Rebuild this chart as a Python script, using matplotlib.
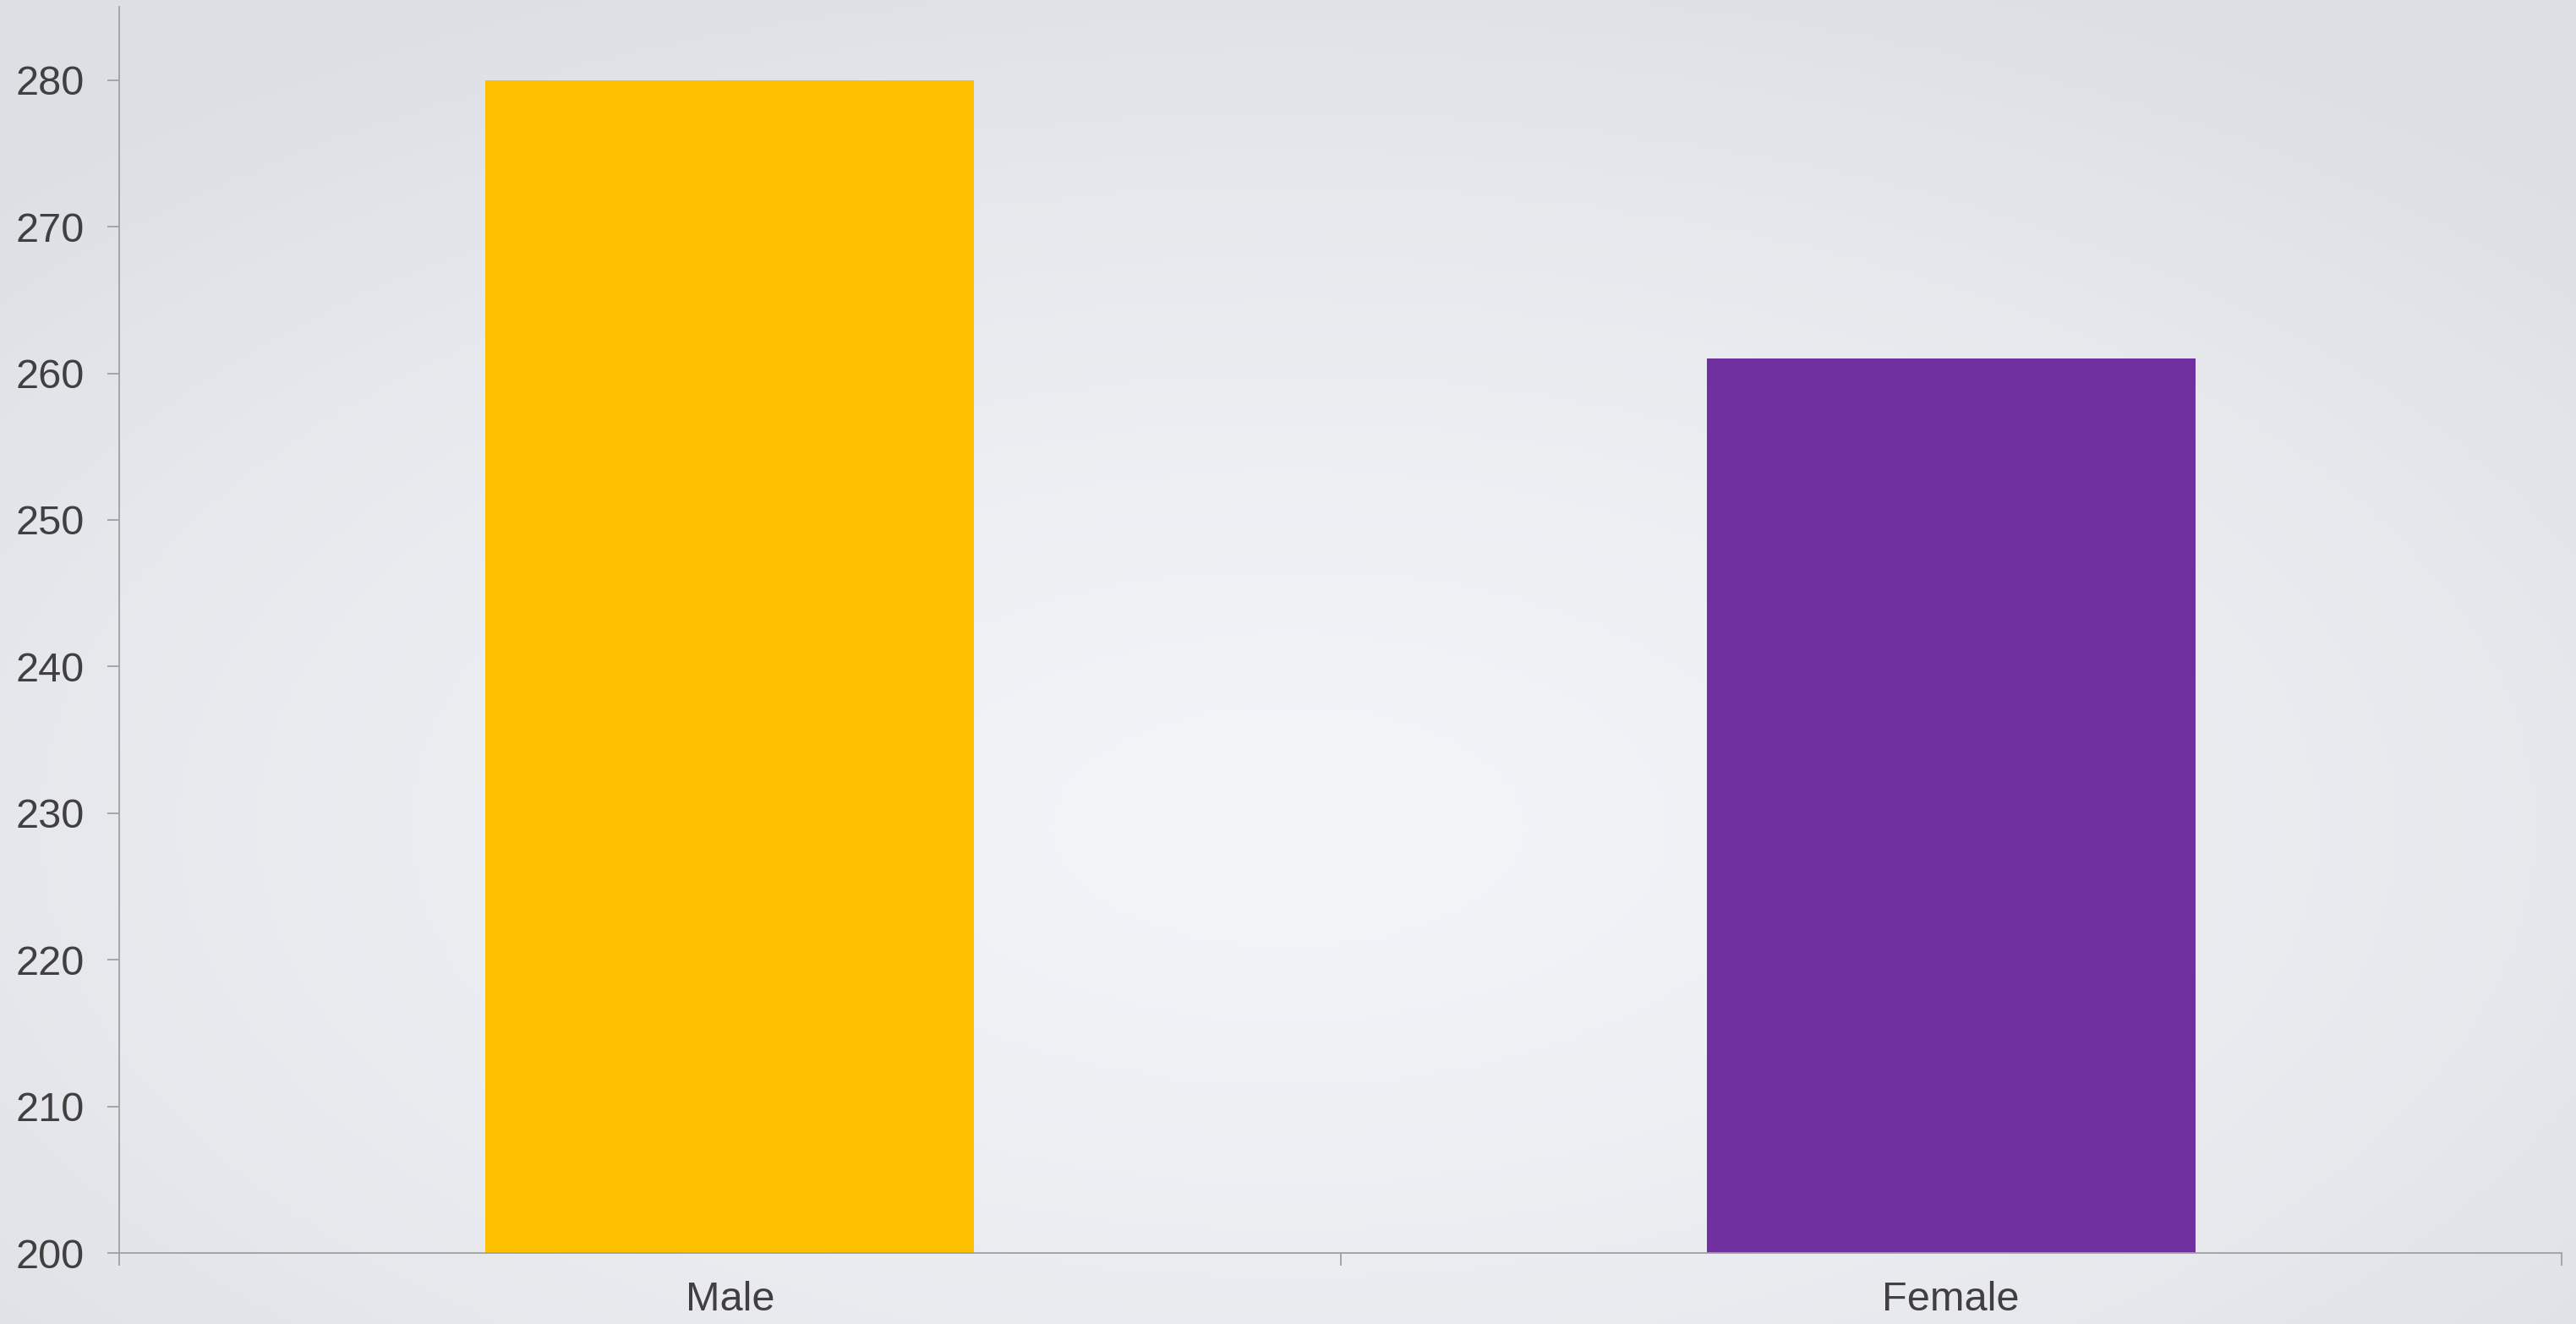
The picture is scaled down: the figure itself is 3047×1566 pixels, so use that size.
import numpy as np
import matplotlib.pyplot as plt

# data
categories = ['Male', 'Female']
values = [280, 261]
colors = ['#ffc000', '#7030a0']

plt.rcParams['font.family'] = ['Liberation Sans', 'DejaVu Sans']

fig = plt.figure(figsize=(30.47, 15.66), dpi=100)

# soft radial background
bg = fig.add_axes([0, 0, 1, 1], zorder=-10)
yy, xx = np.mgrid[-1:1:300j, -1:1:600j]
r = np.sqrt((xx * 0.85) ** 2 + ((yy - 0.25) * 0.85) ** 2)
r = np.clip(r, 0, 1.2) / 1.2
c0 = np.array([243, 244, 248]) / 255
c1 = np.array([220, 223, 228]) / 255
img = c0 + (c1 - c0) * r[..., None] ** 1.5
bg.imshow(img, aspect='auto', extent=[0, 1, 0, 1])
bg.axis('off')

ax = fig.add_axes([0.0463, 0.0536, 0.9481, 0.9413])
ax.patch.set_alpha(0)

x = np.arange(len(categories)) + 0.5
ax.bar(x, [v - 200 for v in values], bottom=200, width=0.40, color=colors)

ax.set_xlim(0, 2)
ax.set_ylim(200, 285)
ax.set_yticks(range(200, 281, 10))
ax.set_xticks([0, 1, 2])
ax.set_xticklabels([])
ax.set_xticks(x, minor=True)
ax.set_xticklabels(categories, minor=True)
ax.tick_params(axis='x', which='minor', length=0, pad=24)
ax.tick_params(axis='x', which='major', length=11, width=1.3, color='#a0a0a0')
ax.tick_params(axis='y', length=10, width=1.3, color='#a0a0a0', pad=20)
ax.tick_params(which='both', labelsize=35, labelcolor='#404040')

for s in ['top', 'right']:
    ax.spines[s].set_visible(False)
for s in ['left', 'bottom']:
    ax.spines[s].set_color('#a0a0a0')
    ax.spines[s].set_linewidth(1.3)

fig.savefig('out.png', dpi=100)
